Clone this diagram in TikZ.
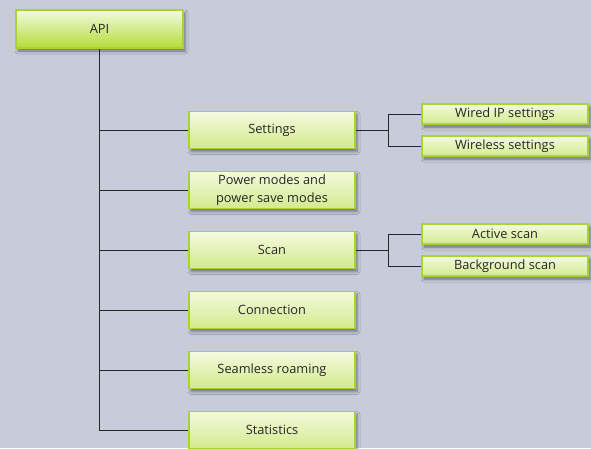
\documentclass[tikz,border=0pt]{standalone}
\usepackage{fontspec}
\setmainfont{Open Sans}
\usetikzlibrary{positioning, calc, shadows.blur}

\definecolor{bgblue}{HTML}{C8CCDA}
\definecolor{limeedge}{HTML}{A8D42C}
\definecolor{limetop}{HTML}{F3FADF}
\definecolor{limebot}{HTML}{D3EA8C}
\definecolor{apibot}{HTML}{B4DC38}
\definecolor{inkgray}{HTML}{262626}

\begin{document}
\begin{tikzpicture}[
    x=1pt, y=-1pt,
    box/.style={draw=limeedge, line width=1.5pt, top color=limetop, bottom color=limebot,
                align=center, inner sep=0pt, text=inkgray,
                font=\fontsize{12.8}{17.5}\selectfont,
                blur shadow={shadow xshift=2pt, shadow yshift=-3pt,
                             shadow blur radius=3pt, shadow opacity=45}},
    rootbox/.style={box, bottom color=apibot, minimum width=167pt, minimum height=38pt},
    mainbox/.style={box, minimum width=166pt, minimum height=37pt},
    subbox/.style={box, minimum width=166pt, minimum height=20pt},
    link/.style={draw=inkgray, line width=1pt}
]
\fill[bgblue] (0,0) rectangle (591,448);
\useasboundingbox (0,0) rectangle (591,448);

% ---- root ----
\node[rootbox] (api) at (99.5,29) {API};

% ---- first level ----
\node[mainbox] (settings) at (272,130) {Settings};
\node[mainbox, below=21.5pt of settings] (power)    {Power modes and\\power save modes};
\node[mainbox, below=21.5pt of power]    (scan)     {Scan};
\node[mainbox, below=21.5pt of scan]     (connect)  {Connection};
\node[mainbox, below=21.5pt of connect]  (roaming)  {Seamless roaming};
\node[mainbox, below=21.5pt of roaming]  (stats)    {Statistics};

% ---- second level ----
\node[subbox] (wired)    at (505,114) {Wired IP settings};
\node[subbox] (wireless) at (505,146) {Wireless settings};
\node[subbox] (active)   at (505,234) {Active scan};
\node[subbox] (backscan) at (505,266) {Background scan};

% ---- trunk ----
\draw[link] (api.south) -- (api.south |- stats.west) -- (stats.west);
\foreach \n in {settings, power, scan, connect, roaming}
    \draw[link] (api.south |- \n.west) -- (\n.west);

% ---- brackets ----
\coordinate (setj)  at ($(settings.east)!0.5!(settings.east -| wired.west)$);
\coordinate (scanj) at ($(scan.east)!0.5!(scan.east -| active.west)$);
\draw[link] (settings.east) -- (setj);
\draw[link] (wired.west) -| (setj |- wireless.west) -- (wireless.west);
\draw[link] (scan.east) -- (scanj);
\draw[link] (active.west) -| (scanj |- backscan.west) -- (backscan.west);

\end{tikzpicture}
\end{document}
